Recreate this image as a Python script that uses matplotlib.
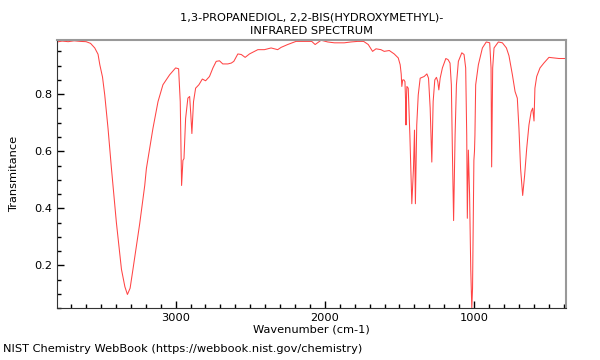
import numpy as np
import matplotlib
matplotlib.use("Agg")
import matplotlib.pyplot as plt
from matplotlib.ticker import MultipleLocator

# values
wavenumber = [3795, 3760, 3720, 3680, 3640, 3600, 3570, 3542, 3520, 3508, 3490, 3475,
              3453, 3430, 3397, 3363, 3340, 3323, 3305, 3286, 3241, 3207,
              3196, 3152, 3118, 3085, 3040, 3000, 2980, 2969, 2960, 2951,
              2944, 2933, 2918, 2906, 2898, 2891, 2880, 2866, 2844, 2821,
              2799, 2773, 2750, 2728, 2706, 2684, 2650, 2627, 2610, 2583,
              2560, 2534, 2505, 2449, 2405, 2360, 2316, 2293, 2249, 2193,
              2137, 2088, 2065, 2025, 1981, 1936, 1869, 1825, 1780, 1740,
              1709, 1680, 1657, 1624, 1602, 1568, 1535, 1508, 1495, 1488,
              1484, 1478, 1470, 1463, 1459, 1456, 1452, 1450, 1441, 1430,
              1417, 1411, 1406, 1399, 1393, 1384, 1374, 1361, 1334, 1316,
              1305, 1294, 1283, 1274, 1263, 1252, 1243, 1236, 1227, 1212,
              1189, 1174, 1161, 1152, 1145, 1137, 1127, 1118, 1105, 1082,
              1067, 1056, 1049, 1045, 1038, 1030, 1022, 1015, 1010, 1006,
              1003, 1001, 997, 994, 989, 971, 944, 918, 895, 886,
              882, 875, 866, 837, 810, 783, 766, 743, 725, 710,
              699, 688, 674, 661, 647, 632, 617, 607, 598, 592,
              580, 558, 532, 498, 465, 431, 390]
transmittance = [0.983, 0.986, 0.984, 0.987, 0.985, 0.984, 0.978, 0.962, 0.94, 0.903, 0.86, 0.797,
                 0.680, 0.539, 0.350, 0.186, 0.125, 0.098, 0.120, 0.186, 0.345, 0.480,
                 0.539, 0.680, 0.774, 0.833, 0.868, 0.892, 0.889, 0.774, 0.480, 0.568,
                 0.574, 0.715, 0.786, 0.792, 0.727, 0.662, 0.774, 0.821, 0.833, 0.853,
                 0.847, 0.862, 0.892, 0.915, 0.917, 0.906, 0.906, 0.909, 0.915, 0.941,
                 0.939, 0.929, 0.941, 0.956, 0.956, 0.962, 0.956, 0.964, 0.974, 0.985,
                 0.985, 0.985, 0.974, 0.989, 0.983, 0.980, 0.980, 0.983, 0.985, 0.985,
                 0.974, 0.950, 0.959, 0.956, 0.950, 0.953, 0.941, 0.927, 0.903, 0.870,
                 0.827, 0.850, 0.850, 0.844, 0.780, 0.692, 0.800, 0.827, 0.821, 0.656,
                 0.416, 0.480, 0.539, 0.674, 0.416, 0.692, 0.797, 0.856, 0.862, 0.871,
                 0.856, 0.751, 0.562, 0.774, 0.850, 0.859, 0.844, 0.815, 0.856, 0.892,
                 0.925, 0.921, 0.909, 0.833, 0.598, 0.357, 0.656, 0.833, 0.915, 0.945,
                 0.939, 0.892, 0.656, 0.365, 0.604, 0.450, 0.186, 0.050, 0.120, 0.300,
                 0.468, 0.568, 0.600, 0.656, 0.833, 0.903, 0.962, 0.983, 0.980, 0.892,
                 0.545, 0.892, 0.962, 0.983, 0.980, 0.962, 0.935, 0.868, 0.809, 0.786,
                 0.680, 0.539, 0.445, 0.515, 0.610, 0.692, 0.739, 0.751, 0.706, 0.821,
                 0.862, 0.892, 0.909, 0.929, 0.927, 0.925, 0.925]

fs = 8.2

fig = plt.figure(figsize=(6, 3.6), dpi=100)
ax = fig.add_axes([0.095, 0.144, 0.848, 0.745])

ax.plot(wavenumber, transmittance, color='#ff3030', lw=0.75, alpha=0.9)

ax.set_xlim(3795, 385)
ax.set_ylim(0.05, 0.99)
ax.xaxis.set_major_locator(MultipleLocator(1000))
ax.xaxis.set_minor_locator(MultipleLocator(100))
ax.yaxis.set_major_locator(MultipleLocator(0.2))
ax.yaxis.set_minor_locator(MultipleLocator(0.05))
ax.tick_params(which='both', direction='in', labelsize=fs, width=1)
ax.tick_params(which='major', length=5)
ax.tick_params(which='minor', length=3)

for s in ['top', 'right']:
    ax.spines[s].set_color('#999999')
    ax.spines[s].set_linewidth(1.5)
for s in ['left', 'bottom']:
    ax.spines[s].set_color('#333333')

ax.set_xlabel('Wavenumber (cm-1)', fontsize=fs, labelpad=1)
ax.set_ylabel('Transmitance', fontsize=fs, labelpad=11)
ax.set_title('1,3-PROPANEDIOL, 2,2-BIS(HYDROXYMETHYL)-\nINFRARED SPECTRUM',
             fontsize=fs, linespacing=1.45, pad=4)
fig.text(0.005, 0.022, 'NIST Chemistry WebBook (https://webbook.nist.gov/chemistry)',
         fontsize=fs)

fig.savefig('out.png', dpi=100)
